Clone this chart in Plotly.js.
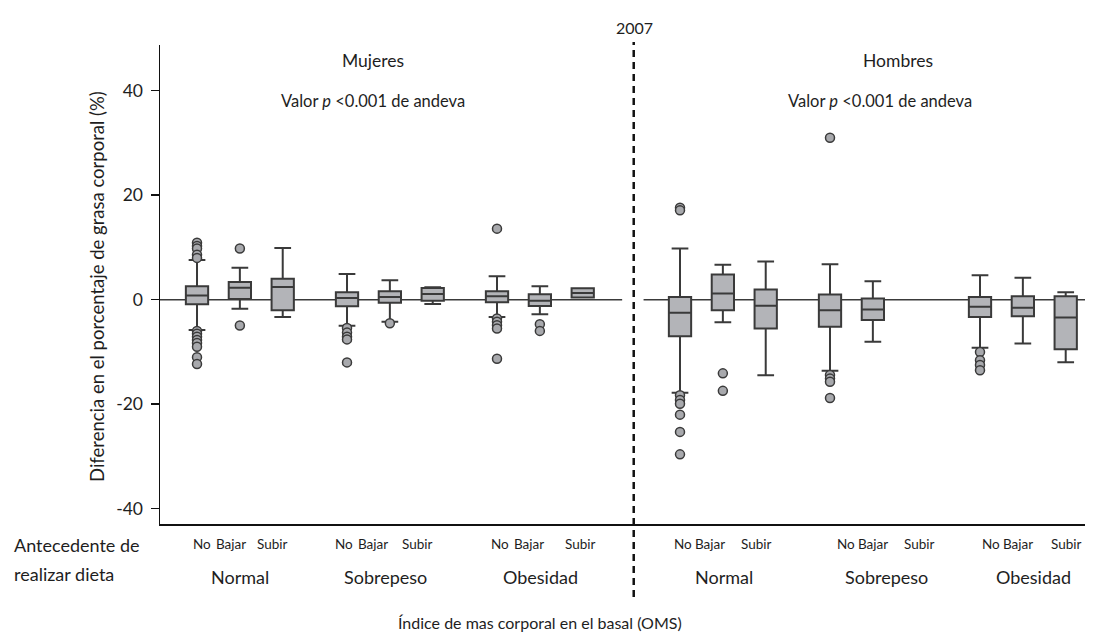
<!DOCTYPE html>
<html>
<head>
<meta charset="utf-8">
<script src="https://cdn.plot.ly/plotly-3.0.1.min.js"></script>
<style>html,body{margin:0;padding:0;background:#fff;}#chart{width:1093px;height:634px;}</style>
</head>
<body>
<div id="chart"></div>
<script>
// ---- Data ----
const groups = ["Normal", "Sobrepeso", "Obesidad"];
const dietas = ["No", "Bajar", "Subir"];
const paneles = ["Mujeres", "Hombres"];

// Mujeres: order Normal(No,Bajar,Subir), Sobrepeso(...), Obesidad(...)
const mujeres_q1     = [-0.86, 0.15, -2.0, -1.24, -0.6, -0.22, -0.48, -1.2, 0.42];
const mujeres_median = [0.8, 2.3, 2.45, 0.35, 0.54, 1.1, 0.67, -0.22, 1.3];
const mujeres_q3     = [2.58, 3.4, 4.0, 1.43, 1.63, 2.26, 1.63, 1.05, 2.2];
const mujeres_lower  = [-5.8, -1.75, -3.3, -5.0, -4.2, -0.8, -3.3, -2.78, 0.42];
const mujeres_upper  = [7.6, 6.1, 9.9, 4.9, 3.73, 2.4, 4.5, 2.58, 2.2];
const mujeres_outliers = [
  [10.9, 10.3, 9.8, 8.6, 8.0, -6.0, -6.5, -7.1, -7.7, -8.3, -9.0, -11.0, -12.3],
  [9.8, -4.95],
  [],
  [-5.4, -6.3, -7.1, -7.6, -12.0],
  [-4.5],
  [],
  [13.6, -3.6, -4.2, -4.9, -5.5, -11.3],
  [-4.7, -5.97],
  []
];

// Hombres (Sobrepeso/Subir not shown in the reference)
const hombres_q1     = [-7.0, -2.0, -5.5, -5.2, -3.9, null, -3.3, -3.16, -9.5];
const hombres_median = [-2.5, 1.19, -1.18, -2.0, -1.88, null, -1.37, -1.56, -3.4];
const hombres_q3     = [0.54, 4.82, 1.95, 0.99, 0.22, null, 0.54, 0.67, 0.67];
const hombres_lower  = [-17.8, -4.3, -14.45, -13.6, -8.07, null, -9.2, -8.4, -11.96];
const hombres_upper  = [9.8, 6.67, 7.3, 6.8, 3.54, null, 4.69, 4.18, 1.43];
const hombres_outliers = [
  [17.6, 17.1, -18.3, -19.2, -19.9, -22.0, -25.3, -29.6],
  [-14.1, -17.45],
  [],
  [31.0, -14.4, -15.1, -15.7, -18.8],
  [],
  [],
  [-10.0, -11.6, -12.5, -13.5],
  [],
  []
];

const yTickVals = [-40, -20, 0, 20, 40];
const yTickText = ["-40", "-20", "0", "20", "40"];

// ---- Layout helpers ----
const W = 1093, H = 634;
const M = {l: 160, r: 8, t: 45, b: 110};
const PW = W - M.l - M.r, PH = H - M.t - M.b;
const px2x = p => (p - M.l) / PW;
const py2y = p => (H - M.b - p) / PH;

const GROUP_STEP = 3.5, PANEL_OFFSET = 11.27;
function pos(panel, idx) {
  const g = Math.floor(idx / 3), s = idx % 3;
  return panel * PANEL_OFFSET + g * GROUP_STEP + s;
}
const X_RANGE = [-0.8635, 20.72];

const FONT = "Lato, 'Open Sans', sans-serif";
const TXT = "#1e1e1e";
const BOX_FILL = "#b3b4b8";
const BOX_LINE = "#3a3a3a";

const panelsData = [
  {q1: mujeres_q1, med: mujeres_median, q3: mujeres_q3, lo: mujeres_lower, hi: mujeres_upper, out: mujeres_outliers},
  {q1: hombres_q1, med: hombres_median, q3: hombres_q3, lo: hombres_lower, hi: hombres_upper, out: hombres_outliers}
];

const traces = [];
panelsData.forEach((d, p) => {
  const xs = [], q1 = [], med = [], q3 = [], lo = [], hi = [];
  d.q1.forEach((v, i) => {
    if (v === null) return;
    xs.push(pos(p, i)); q1.push(v); med.push(d.med[i]); q3.push(d.q3[i]);
    lo.push(d.lo[i]); hi.push(d.hi[i]);
  });
  traces.push({
    type: "box", name: paneles[p], x: xs, q1: q1, median: med, q3: q3,
    lowerfence: lo, upperfence: hi, boxpoints: false,
    width: 0.52, whiskerwidth: 0.75,
    fillcolor: BOX_FILL, line: {color: BOX_LINE, width: 2},
    showlegend: false, hoverinfo: "y"
  });
  const ox = [], oy = [];
  d.out.forEach((arr, i) => arr.forEach(v => { ox.push(pos(p, i)); oy.push(v); }));
  traces.push({
    type: "scatter", mode: "markers", x: ox, y: oy, showlegend: false,
    marker: {symbol: "circle", size: 9, color: "#a8a9ad", line: {color: "#3a3a3a", width: 1.5}},
    hoverinfo: "y"
  });
});

// ---- Annotations ----
const ann = [];
function txt(text, px, py, size, opts) {
  ann.push(Object.assign({
    text: text, xref: "paper", yref: "paper", x: px2x(px), y: py2y(py),
    xanchor: "center", yanchor: "middle", showarrow: false,
    font: {family: FONT, size: size, color: TXT}
  }, opts || {}));
}
txt("2007", 634, 27, 16);
txt(paneles[0], 373, 61, 17.5);
txt(paneles[1], 898, 61, 17.5);
txt("Valor <i>p</i> <0.001 de andeva", 373, 101, 16.5);
txt("Valor <i>p</i> <0.001 de andeva", 880, 101, 16.5);
txt("Diferencia en el porcentaje de grasa corporal (%)", 97, 287, 18.5, {textangle: -90});
txt("Antecedente de", 12, 545, 18, {xanchor: "left"});
txt("realizar dieta", 12, 574, 18, {xanchor: "left"});
txt("Índice de mas corporal en el basal (OMS)", 540, 622, 16);

const subLabelPx = [
  [202, 231, 272.5], [344, 373, 417], [500, 529, 580],
  [683, 710, 756], [845.5, 873, 919.5], [991, 1018, 1066]
];
const groupLabelPx = [240, 385, 540, 724, 886, 1033];
subLabelPx.forEach((arr, gi) => {
  arr.forEach((px, si) => txt(dietas[si], px, 544, 13.5));
  txt(groups[gi % 3], groupLabelPx[gi], 577, 18);
});

// ---- Shapes: zero lines per panel and dashed divider ----
const shapes = [
  {type: "line", xref: "x", yref: "y", x0: X_RANGE[0], x1: 9.92, y0: 0, y1: 0,
   line: {color: "#3a3a3a", width: 1.5}, layer: "below"},
  {type: "line", xref: "x", yref: "y", x0: 10.42, x1: X_RANGE[1], y0: 0, y1: 0,
   line: {color: "#3a3a3a", width: 1.5}, layer: "below"},
  {type: "line", xref: "x", yref: "paper", x0: 10.19, x1: 10.19,
   y0: py2y(597), y1: py2y(42),
   line: {color: "#111", width: 2.5, dash: "7px,5px"}}
];

const layout = {
  width: W, height: H,
  margin: M,
  paper_bgcolor: "#fff", plot_bgcolor: "#fff",
  font: {family: FONT, color: TXT},
  showlegend: false,
  xaxis: {range: X_RANGE, showgrid: false, zeroline: false, showticklabels: false,
          ticks: "", showline: true, linecolor: "#111", linewidth: 1.5, fixedrange: true},
  yaxis: {range: [-42.93, 48.75], showgrid: false, zeroline: false,
          tickvals: yTickVals, ticktext: yTickText, ticks: "outside", ticklen: 8,
          tickwidth: 1.5, tickcolor: "#111", showline: true, linecolor: "#111",
          linewidth: 1.5, tickfont: {family: FONT, size: 17.5, color: TXT},
          ticklabelstandoff: 4, fixedrange: true},
  annotations: ann,
  shapes: shapes
};

Plotly.newPlot("chart", traces, layout, {displayModeBar: false, staticPlot: true});
</script>
</body>
</html>
